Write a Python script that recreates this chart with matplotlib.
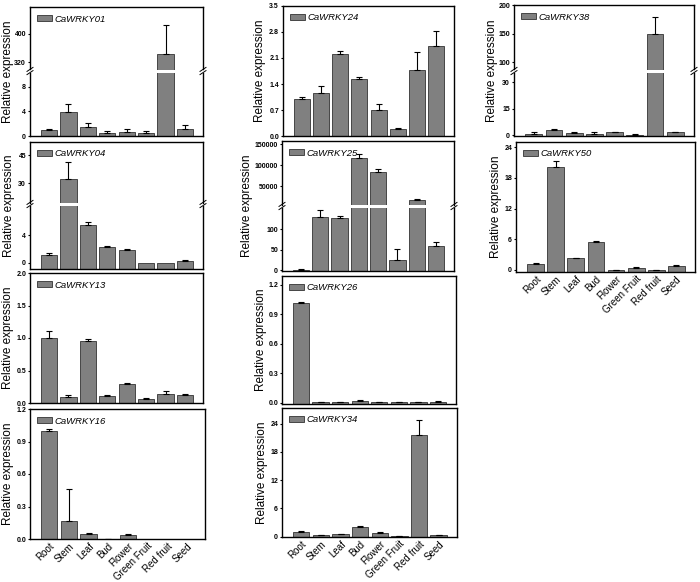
import numpy as np
import matplotlib
matplotlib.use('Agg')
import matplotlib.pyplot as plt
from matplotlib.lines import Line2D

plt.rcParams['font.family'] = ['Liberation Sans', 'DejaVu Sans']

W, H = 700, 582

tissues = ['Root', 'Stem', 'Leaf', 'Bud', 'Flower', 'Green Fruit', 'Red fruit', 'Seed']

# mean relative expression and error (SD)
wrky01 = [1.0, 3.9, 1.4, 0.5, 0.7, 0.5, 342, 1.1]
wrky01_err = [0.12, 1.3, 0.7, 0.3, 0.5, 0.3, 83, 0.7]
wrky24 = [1.0, 1.16, 2.2, 1.53, 0.7, 0.2, 1.77, 2.42]
wrky24_err = [0.06, 0.19, 0.1, 0.07, 0.17, 0.015, 0.48, 0.41]
wrky38 = [0.9, 3.0, 1.5, 0.9, 1.7, 0.5, 150, 1.9]
wrky38_err = [1.1, 0.4, 0.2, 1.1, 0.3, 0.1, 29, 0.3]
wrky04 = [1.1, 32.3, 5.5, 2.3, 1.8, 0.0, 0.0, 0.25]
wrky04_err = [0.3, 9.3, 0.4, 0.1, 0.2, 0, 0, 0.1]
wrky25 = [1, 129, 127.6, 117900, 84600, 25.5, 16500, 60]
wrky25_err = [1.5, 17, 5.5, 9100, 6100, 25, 2800, 8]
wrky50 = [1.15, 20.2, 2.25, 5.5, 0.05, 0.45, 0.05, 0.85]
wrky50_err = [0.15, 1.0, 0.1, 0.15, 0.02, 0.12, 0.02, 0.12]
wrky13 = [1.0, 0.1, 0.96, 0.11, 0.3, 0.06, 0.14, 0.12]
wrky13_err = [0.11, 0.03, 0.03, 0.01, 0.01, 0.01, 0.04, 0.02]
wrky26 = [1.02, 0.004, 0.004, 0.02, 0.003, 0.008, 0.003, 0.012]
wrky26_err = [0.01, 0.001, 0.001, 0.004, 0.001, 0.003, 0.001, 0.004]
wrky16 = [1.0, 0.17, 0.05, 0.003, 0.035, 0, 0, 0]
wrky16_err = [0.015, 0.29, 0.005, 0.001, 0.008, 0, 0, 0]
wrky34 = [1.0, 0.3, 0.5, 2.1, 0.8, 0.05, 21.5, 0.25]
wrky34_err = [0.15, 0.05, 0.05, 0.15, 0.1, 0.02, 3.2, 0.05]

# panel layout in pixels (x0, y0, x1, y1), axis ranges and ticks
panels = [
    dict(name='CaWRKY01', v=wrky01, e=wrky01_err, box=(30, 7, 203, 136), lx=8,
         ylim=(0, 10.3), ticks=[0, 4, 8], brk=71, uylim=(300, 475), uticks=[320, 400]),
    dict(name='CaWRKY24', v=wrky24, e=wrky24_err, box=(283, 6, 454, 136), lx=260,
         ylim=(0, 3.5), ticks=[0.0, 0.7, 1.4, 2.1, 2.8, 3.5], fmt='%.1f'),
    dict(name='CaWRKY38', v=wrky38, e=wrky38_err, box=(514, 5, 694, 136), lx=492,
         ylim=(-0.3, 35.4), ticks=[0, 15, 30], brk=71, uylim=(87, 200), uticks=[100, 150, 200]),
    dict(name='CaWRKY04', v=wrky04, e=wrky04_err, box=(30, 142, 203, 269), lx=9,
         ylim=(-0.9, 8.3), ticks=[0, 4], brk=204, uylim=(19.7, 52.2), uticks=[30, 45]),
    dict(name='CaWRKY25', v=wrky25, e=wrky25_err, box=(282, 141, 454, 271), lx=247,
         ylim=(-2.4, 153), ticks=[0, 50, 100], brk=206, uylim=(6500, 157700),
         uticks=[50000, 100000, 150000]),
    dict(name='CaWRKY50', v=wrky50, e=wrky50_err, box=(516, 142, 695, 272), lx=496,
         ylim=(-0.4, 25), ticks=[0, 6, 12, 18, 24], xlab=True),
    dict(name='CaWRKY13', v=wrky13, e=wrky13_err, box=(30, 273, 203, 403), lx=8,
         ylim=(0, 2.0), ticks=[0.0, 0.5, 1.0, 1.5, 2.0], fmt='%.1f'),
    dict(name='CaWRKY26', v=wrky26, e=wrky26_err, box=(282, 276, 456, 404), lx=261,
         ylim=(-0.013, 1.29), ticks=[0.0, 0.3, 0.6, 0.9, 1.2], fmt='%.1f'),
    dict(name='CaWRKY16', v=wrky16, e=wrky16_err, box=(30, 409, 205, 539), lx=8,
         ylim=(0, 1.2), ticks=[0.0, 0.3, 0.6, 0.9, 1.2], fmt='%.1f', xlab=True),
    dict(name='CaWRKY34', v=wrky34, e=wrky34_err, box=(282, 408, 457, 537), lx=262,
         ylim=(-0.1, 27.35), ticks=[0, 6, 12, 18, 24], xlab=True),
]

fig = plt.figure(figsize=(7, 5.82), dpi=100)


def rect(x0, y0, x1, y1):
    return [x0 / W, 1 - y1 / H, (x1 - x0) / W, (y1 - y0) / H]


def style(ax, ylim, ticks, fmt):
    ax.set_xlim(-0.98, 7.93)
    ax.set_ylim(*ylim)
    ax.set_yticks(ticks, [fmt % t for t in ticks], fontweight='bold', fontsize=5)
    ax.tick_params(axis='y', direction='out', length=1.8, width=0.8, pad=1.0)
    ax.tick_params(axis='x', length=0)
    for s in ax.spines.values():
        s.set_linewidth(1.0)


def draw_bars(ax, v, e, base, name):
    x = np.arange(len(v))
    v = np.array(v, dtype=float)
    e = np.array(e, dtype=float)
    ax.bar(x, v - base, bottom=base, width=0.84, color='#808080',
           edgecolor='#333333', linewidth=0.6, label=name)
    m = e > 0
    ax.errorbar(x[m], v[m], yerr=[np.zeros(m.sum()), e[m]], fmt='none',
                ecolor='black', elinewidth=0.8, capsize=2, capthick=0.8)


def add_legend(ax, box_px_w, box_px_h):
    ax.legend(loc='center left', bbox_to_anchor=(7 / box_px_w, 1 - 12 / box_px_h),
              frameon=False, borderaxespad=0, borderpad=0, handlelength=1.6,
              handleheight=0.55, handletextpad=0.3,
              prop={'style': 'italic', 'size': 6.8})


for p in panels:
    x0, y0, x1, y1 = p['box']
    fmt = p.get('fmt', '%g')
    base = p['ylim'][0]
    if 'brk' in p:
        b = p['brk']
        lo = fig.add_axes(rect(x0, b + 1.5, x1, y1))
        up = fig.add_axes(rect(x0, y0, x1, b - 1.5))
        for ax in (lo, up):
            draw_bars(ax, p['v'], p['e'], base, p['name'])
        style(lo, p['ylim'], p['ticks'], fmt)
        style(up, p['uylim'], p['uticks'], fmt)
        lo.spines['top'].set_visible(False)
        up.spines['bottom'].set_visible(False)
        up.set_xticks([])
        add_legend(up, x1 - x0, b - 1.5 - y0)
        # break marks on both spines
        for xs in (x0, x1):
            for dy in (-1.6, 1.6):
                fig.add_artist(Line2D([(xs - 3) / W, (xs + 3) / W],
                                      [1 - (b + dy + 2) / H, 1 - (b + dy - 2) / H],
                                      color='black', lw=0.7))
        ax_main = lo
    else:
        ax_main = fig.add_axes(rect(x0, y0, x1, y1))
        draw_bars(ax_main, p['v'], p['e'], base, p['name'])
        style(ax_main, p['ylim'], p['ticks'], fmt)
        add_legend(ax_main, x1 - x0, y1 - y0)
    if p.get('xlab'):
        ax_main.set_xticks(range(len(tissues)))
        ax_main.set_xticklabels(tissues, rotation=45, ha='right',
                                rotation_mode='anchor', fontsize=7)
        ax_main.tick_params(axis='x', length=0, pad=1.5)
    else:
        ax_main.set_xticks([])
    fig.text(p['lx'] / W, 1 - (y0 + y1) / 2 / H, 'Relative expression',
             rotation=90, ha='center', va='center', fontsize=8.5)

fig.savefig('out.png', dpi=100)
